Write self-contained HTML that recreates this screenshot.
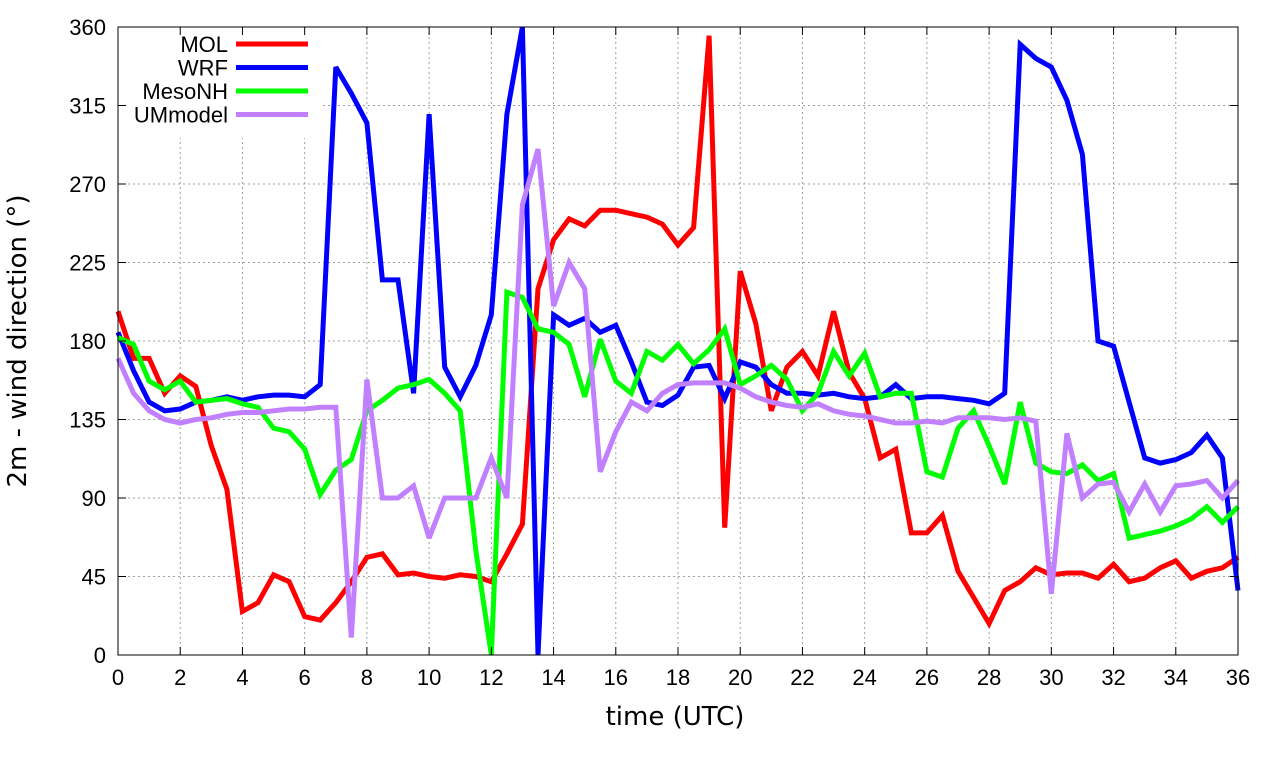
<!DOCTYPE html>
<html><head><meta charset="utf-8"><style>
html,body{margin:0;padding:0;background:#fff}
svg{display:block;font-family:"Liberation Sans",sans-serif}
</style></head><body>
<svg id="chart" width="1280" height="760" viewBox="0 0 1280 760" xmlns="http://www.w3.org/2000/svg">
<g id="grid"></g>
<rect x="119" y="28" width="203" height="110" fill="#fff"/>
<g id="series"></g>
<rect x="118" y="27" width="1120" height="628" fill="none" stroke="#000" stroke-width="1"/>
<g id="ticks"></g>
<text x="675" y="725" font-size="26" text-anchor="middle" style="font-family:'DejaVu Sans',sans-serif">time (UTC)</text>
<text transform="translate(26,341) rotate(-90)" font-size="26" text-anchor="middle" style="font-family:'DejaVu Sans',sans-serif">2m - wind direction (°)</text>
<g id="legend"></g>
</svg>
<script>
const xTicks=[0,2,4,6,8,10,12,14,16,18,20,22,24,26,28,30,32,34,36];
const yTicks=[0,45,90,135,180,225,270,315,360];
const seriesNames=["MOL","WRF","MesoNH","UMmodel"];
const seriesColors=["#ff0000","#0000ff","#00ff00","#c080ff"];
const mol=[197,170,170,150,160,154,120,95,25,30,46,42,22,20,30,42,56,58,46,47,45,44,46,45,42,58,75,210,238,250,246,255,255,253,251,247,235,245,355,73,220,190,140,165,174,160,197,162,147,113,118,70,70,80,48,33,18,37,42,50,46,47,47,44,52,42,44,50,54,44,48,50,56];
const wrf=[185,163,145,140,141,145,146,148,146,148,149,149,148,155,337,322,305,215,215,150,310,165,148,166,195,310,360,0,195,189,193,185,189,168,145,143,149,165,166,147,168,165,155,150,150,149,150,148,147,148,155,147,148,148,147,146,144,150,350,342,337,318,287,180,177,145,113,110,112,116,126,113,37];
const mesonh=[182,178,157,152,157,145,146,147,144,142,130,128,118,92,106,112,140,146,153,155,158,150,140,60,0,208,205,187,185,178,148,181,157,150,174,169,178,167,175,187,155,160,166,158,140,150,174,160,173,148,150,150,105,102,130,140,120,98,145,110,105,104,109,100,104,67,69,71,74,78,85,76,85];
const um=[170,150,140,135,133,135,136,138,139,139,140,141,141,142,142,10,158,90,90,97,67,90,90,90,113,90,258,290,200,225,210,105,128,145,140,150,155,156,156,156,153,148,145,143,142,144,140,138,137,135,133,133,134,133,136,136,136,135,136,134,35,127,90,98,99,82,98,82,97,98,100,90,100];
const allSeries=[mol,wrf,mesonh,um];
const X0=118,X1=1238,Y0=655,Y1=27;
function xs(t){return X0+(t/36)*(X1-X0);}
function ys(v){return Y0-(v/360)*(Y0-Y1);}
const NS="http://www.w3.org/2000/svg";
function mk(tag,parent,attrs){const e=document.createElementNS(NS,tag);for(const k in attrs)e.setAttribute(k,attrs[k]);parent.appendChild(e);return e;}
const grid=document.getElementById('grid'),ticks=document.getElementById('ticks');
xTicks.forEach(t=>{
  const x=xs(t);
  if(t>0&&t<36){const g=mk('line',grid,{x1:x,x2:x,y1:Y1,y2:Y0,stroke:'#a0a0a0','stroke-width':1,'stroke-dasharray':'2,3'});
  
  }
  const tl=mk('line',ticks,{x1:x,x2:x,y1:Y0,y2:Y0-8,stroke:'#000'});
  
  
  const tt=mk('line',ticks,{x1:x,x2:x,y1:Y1,y2:Y1+8,stroke:'#000'});
  
  
  const lb=mk('text',ticks,{x:x,y:Y0+30,'font-size':22,'text-anchor':'middle'});lb.textContent=t;
  
  
});
yTicks.forEach(v=>{
  const y=ys(v);
  if(v>0&&v<360){const g=mk('line',grid,{x1:X0,x2:X1,y1:y,y2:y,stroke:'#a0a0a0','stroke-width':1,'stroke-dasharray':'2,3'});
  
  }
  const tl=mk('line',ticks,{x1:X0,x2:X0+8,y1:y,y2:y,stroke:'#000'});
  
  
  const tr=mk('line',ticks,{x1:X1,x2:X1-8,y1:y,y2:y,stroke:'#000'});
  
  
  const lb=mk('text',ticks,{x:X0-12,y:y+8,'font-size':22,'text-anchor':'end'});lb.textContent=v;
  
  
});
const sg=document.getElementById('series'),lg=document.getElementById('legend');
allSeries.forEach((d,i)=>{
  const pts=d.map((v,k)=>xs(k*0.5).toFixed(1)+','+ys(v).toFixed(1)).join(' ');
  const pl=mk('polyline',sg,{points:pts,fill:'none',stroke:seriesColors[i],'stroke-width':5,'stroke-linejoin':'miter','stroke-miterlimit':3});
  
  
  const ly=44+i*23.5;
  const lt=mk('text',lg,{x:228,y:ly+8,'font-size':22,'text-anchor':'end'});lt.textContent=seriesNames[i];
  
  
  const ll=mk('line',lg,{x1:236,x2:308,y1:ly,y2:ly,stroke:seriesColors[i],'stroke-width':5});
  
  
});
</script>
</body></html>
